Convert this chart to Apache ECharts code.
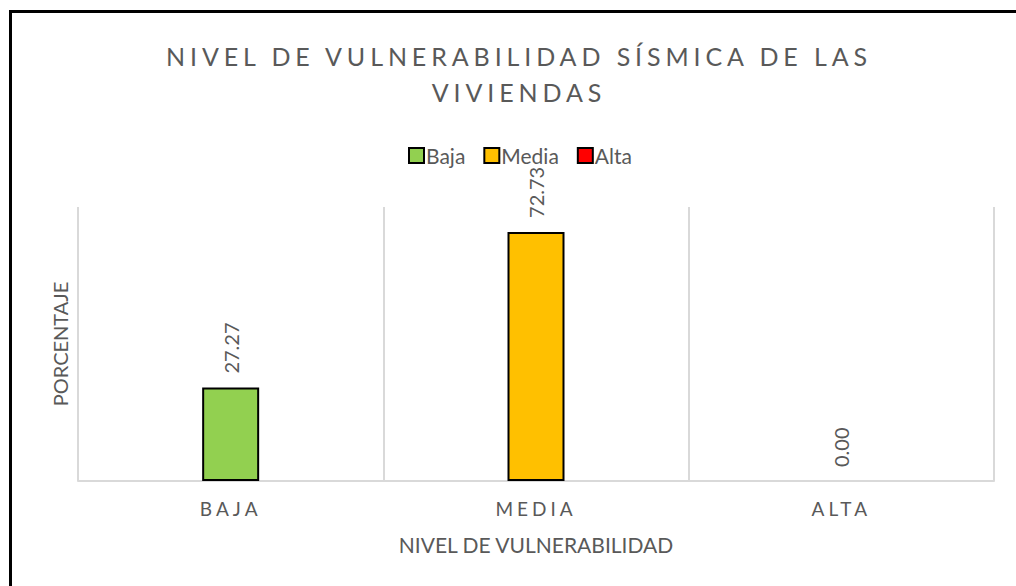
<!DOCTYPE html>
<html>
<head>
<meta charset="utf-8">
<style>
  html, body { margin: 0; padding: 0; background: #ffffff; }
  #chart { width: 1016px; height: 586px; }
</style>
<script src="https://cdn.jsdelivr.net/npm/echarts@6/dist/echarts.min.js"></script>
</head>
<body>
<div id="chart"></div>
<script>
// Vulnerability levels and their share of dwellings (%)
const categories = ['BAJA', 'MEDIA', 'ALTA'];
const seriesNames = ['Baja', 'Media', 'Alta'];
const bajaValues  = [27.27, '-', '-'];
const mediaValues = ['-', 72.73, '-'];
const altaValues  = ['-', '-', 0.00];
const seriesColors = ['#92D050', '#FFC000', '#FF0000'];

const titleLines = ['NIVEL DE VULNERABILIDAD SÍSMICA DE LAS', 'VIVIENDAS'];

const textColor = '#595959';
const fontFamily = 'Lato, "Open Sans", sans-serif';

const seriesData = [bajaValues, mediaValues, altaValues];

const chart = echarts.init(document.getElementById('chart'), null, { renderer: 'svg' });

// A zero-height bar shows no outline
function toItems(values) {
  return values.map(v => (v === 0 ? { value: v, itemStyle: { borderWidth: 0 } } : v));
}

chart.setOption({
  backgroundColor: '#ffffff',
  animation: false,
  graphic: [{
    type: 'rect',
    shape: { x: 10.5, y: 11.5, width: 1200, height: 800 },
    style: { fill: 'none', stroke: '#000000', lineWidth: 3 },
    silent: true
  }],
  title: {
    text: titleLines.join('\n'),
    left: 514,
    textAlign: 'center',
    top: 33,
    textStyle: {
      color: textColor,
      fontFamily: fontFamily,
      fontSize: 25,
      fontWeight: 'normal',
      lineHeight: 36
    }
  },
  legend: {
    data: seriesNames,
    top: 140,
    left: 403,
    itemWidth: 15,
    itemHeight: 15,
    itemGap: 18,
    icon: 'rect',
    textStyle: { color: textColor, fontFamily: fontFamily, fontSize: 21, padding: [0, 0, 0, -3] }
  },
  grid: { left: 78, right: 22, top: 207, bottom: 105 },
  xAxis: {
    type: 'category',
    data: categories,
    name: 'NIVEL DE VULNERABILIDAD',
    nameLocation: 'middle',
    nameGap: 53,
    nameTextStyle: { color: textColor, fontFamily: fontFamily, fontSize: 21 },
    axisLine: { show: true, lineStyle: { color: '#d9d9d9', width: 2 } },
    axisTick: { show: false },
    axisLabel: { color: textColor, fontFamily: fontFamily, fontSize: 19, margin: 18 },
    splitLine: { show: true, lineStyle: { color: '#d9d9d9', width: 2 } }
  },
  yAxis: {
    type: 'value',
    min: 0,
    max: 80,
    name: 'PORCENTAJE',
    nameLocation: 'middle',
    nameGap: 8,
    nameTextStyle: { color: textColor, fontFamily: fontFamily, fontSize: 20 },
    axisLine: { show: false },
    axisTick: { show: false },
    axisLabel: { show: false },
    splitLine: { show: false }
  },
  series: seriesNames.map((name, i) => ({
    name: name,
    type: 'bar',
    stack: 'nivel',
    data: toItems(seriesData[i]),
    barWidth: 57,
    itemStyle: { color: seriesColors[i], borderColor: '#000000', borderWidth: 2 },
    label: {
      show: true,
      position: 'top',
      distance: 14,
      rotate: 90,
      align: 'left',
      verticalAlign: 'middle',
      color: textColor,
      fontFamily: fontFamily,
      fontSize: 20,
      formatter: p => Number(p.value).toFixed(2)
    }
  }))
});

// Tracked (letter-spaced) caps for the title and category labels
const spacing = new Map();
titleLines.forEach(t => spacing.set(t, 4.9));
categories.forEach(c => spacing.set(c, 4));

function applyTracking() {
  document.querySelectorAll('#chart svg text').forEach(el => {
    const s = spacing.get(el.textContent);
    if (s) el.setAttribute('letter-spacing', s);
  });
}
applyTracking();
chart.on('finished', applyTracking);
</script>
</body>
</html>
